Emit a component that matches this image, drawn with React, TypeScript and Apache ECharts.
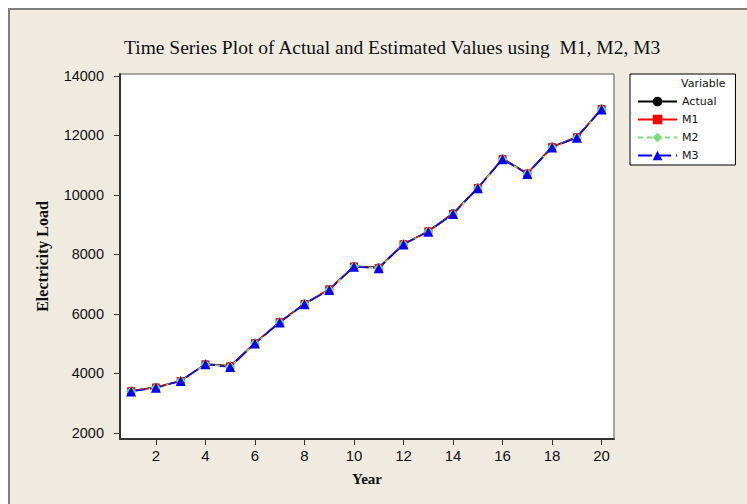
import React, { useEffect, useRef } from "react";
import * as echarts from "echarts";

const years = [1, 2, 3, 4, 5, 6, 7, 8, 9, 10, 11, 12, 13, 14, 15, 16, 17, 18, 19, 20];
const actual = [3410, 3530, 3750, 4310, 4250, 5020, 5730, 6340, 6830, 7600, 7560, 8350, 8780, 9380, 10240, 11220, 10720, 11620, 11940, 12900];
const m1 = [3400, 3520, 3740, 4300, 4230, 5010, 5720, 6330, 6820, 7590, 7540, 8340, 8770, 9360, 10230, 11200, 10710, 11600, 11930, 12880];
const m2 = [3395, 3515, 3745, 4295, 4220, 5005, 5715, 6325, 6810, 7585, 7535, 8335, 8765, 9355, 10225, 11195, 10705, 11595, 11925, 12875];
const m3 = [3390, 3510, 3740, 4300, 4210, 5000, 5710, 6320, 6800, 7580, 7530, 8330, 8760, 9350, 10220, 11190, 10700, 11590, 11920, 12870];
const yTicks = [2000, 4000, 6000, 8000, 10000, 12000, 14000];
const xTicks = [2, 4, 6, 8, 10, 12, 14, 16, 18, 20];
const seriesNames = ["Actual", "M1", "M2", "M3"];

const pair = (vals: number[]) => years.map((x, i) => [x, vals[i]]);

export default function App() {
  const ref = useRef<HTMLDivElement>(null);
  useEffect(() => {
    if (!ref.current) return;
    const chart = echarts.init(ref.current, undefined, { renderer: "svg" });
    const sansFont = "Liberation Sans";
    chart.setOption({
      animation: false,
      backgroundColor: "#ffffff",
      title: {
        text: "Time Series Plot of Actual and Estimated Values using  M1, M2, M3",
        left: 119,
        top: 32,
        textStyle: {
          fontFamily: "Liberation Serif",
          fontWeight: "normal",
          fontSize: 19.5,
          color: "#111",
        },
      },
      graphic: [
        {
          type: "rect",
          z: -10,
          shape: { x: 9, y: 9, width: 760, height: 520 },
          style: { fill: "#EFEBE1", stroke: "#7f7f7f", lineWidth: 2 },
        },
        {
          type: "text",
          z: 100,
          left: 681,
          top: 78,
          style: {
            text: "Variable",
            fontFamily: "DejaVu Sans",
            fontSize: 11,
            fill: "#111",
          },
        },
      ],
      legend: {
        orient: "vertical",
        left: 630,
        top: 74,
        data: seriesNames,
        backgroundColor: "#ffffff",
        borderColor: "#000",
        borderWidth: 1,
        padding: [22, 19, 4, 7],
        itemWidth: 39,
        itemHeight: 12,
        itemGap: 7,
        textStyle: { fontFamily: "DejaVu Sans", fontSize: 11, color: "#111" },
      },
      grid: {
        left: 120,
        top: 74,
        right: 133,
        bottom: 65,
        show: true,
        backgroundColor: "#ffffff",
        borderColor: "#555",
        borderWidth: 1,
      },
      xAxis: {
        type: "value",
        min: 0.55,
        max: 20.5,
        name: "Year",
        nameLocation: "middle",
        nameGap: 32,
        nameTextStyle: {
          fontFamily: "Liberation Serif",
          fontWeight: "bold",
          fontSize: 15,
          color: "#111",
        },
        splitLine: { show: false },
        axisLine: { lineStyle: { color: "#333", width: 2 } },
        axisTick: { show: true, length: 6, customValues: xTicks, lineStyle: { color: "#333" } },
        axisLabel: {
          customValues: xTicks,
          margin: 9,
          fontFamily: sansFont,
          fontSize: 15,
          color: "#111",
        },
      },
      yAxis: {
        type: "value",
        min: 1790,
        max: 14060,
        name: "Electricity Load",
        nameLocation: "middle",
        nameGap: 70,
        nameTextStyle: {
          fontFamily: "Liberation Serif",
          fontWeight: "bold",
          fontSize: 16,
          color: "#111",
        },
        splitLine: { show: false },
        axisLine: { show: true, lineStyle: { color: "#333", width: 2 } },
        axisTick: { show: true, length: 6, customValues: yTicks, lineStyle: { color: "#333" } },
        axisLabel: {
          customValues: yTicks,
          margin: 16,
          formatter: (v: number) => String(v),
          fontFamily: sansFont,
          fontSize: 14.5,
          color: "#111",
        },
      },
      series: [
        {
          name: "Actual",
          type: "line",
          data: pair(actual),
          symbol: "circle",
          symbolSize: 8,
          itemStyle: { color: "#000000" },
          lineStyle: { color: "#000000", width: 1.5 },
        },
        {
          name: "M1",
          type: "line",
          data: pair(m1),
          symbol: "rect",
          symbolSize: 8,
          itemStyle: { color: "#ff0000" },
          lineStyle: { color: "#ff0000", width: 1.5 },
        },
        {
          name: "M2",
          type: "line",
          data: pair(m2),
          symbol: "diamond",
          symbolSize: 10,
          itemStyle: { color: "#77dd77" },
          lineStyle: { color: "#77dd77", width: 1.5, type: [5, 4] },
        },
        {
          name: "M3",
          type: "line",
          data: pair(m3),
          symbol: "triangle",
          symbolSize: 10,
          itemStyle: { color: "#0000ff" },
          lineStyle: { color: "#0000ff", width: 1.5, type: [14, 5] },
        },
      ],
    });
    return () => chart.dispose();
  }, []);
  return (
    <div
      ref={ref}
      style={{ position: "absolute", left: 0, top: 0, width: 747, height: 504 }}
    />
  );
}
